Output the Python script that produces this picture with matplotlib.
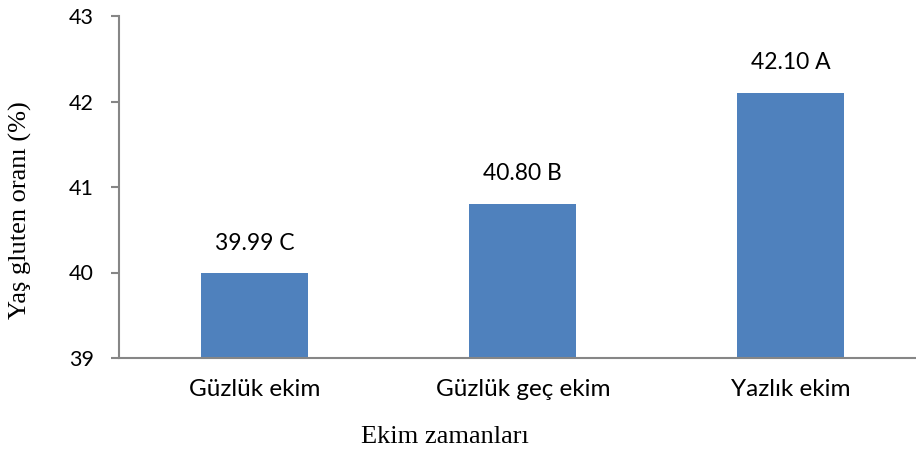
import numpy as np
import matplotlib.pyplot as plt

# ekim zamanlarina gore yas gluten orani
categories = ['Güzlük ekim', 'Güzlük geç ekim', 'Yazlık ekim']
values = [39.99, 40.80, 42.10]
letters = ['C', 'B', 'A']
yticks = [39, 40, 41, 42, 43]

bar_color = '#4F81BD'
axis_color = '#868686'
sans = 'Lato'
serif = 'Liberation Serif'

fig = plt.figure(figsize=(9.16, 4.53), dpi=100)
ax = fig.add_axes([119/916, 1 - 358/453, 1 - 119/916, (358 - 16)/453])

x = np.arange(len(categories))
bars = ax.bar(x, values, width=0.4, color=bar_color, zorder=2)

for xi, v, l in zip(x, values, letters):
    ax.annotate('%.2f %s' % (v, l), xy=(xi, v), xytext=(0, 17),
                textcoords='offset points', ha='center', va='baseline',
                fontsize=16.5, family=sans, color='black')

ax.set_ylim(39, 43)
ax.set_xlim(-0.507, 2.467)
ax.set_yticks(yticks)
ax.set_yticklabels([str(t) for t in yticks], family=sans, fontsize=15.5)
ax.set_xticks(x)
ax.set_xticklabels(categories, family=sans, fontsize=17.5)

for s in ['top', 'right']:
    ax.spines[s].set_visible(False)
for s in ['left', 'bottom']:
    ax.spines[s].set_color(axis_color)
    ax.spines[s].set_linewidth(1.5)

ax.tick_params(axis='y', length=6, width=1.5, color=axis_color, pad=12)
ax.tick_params(axis='x', length=0, pad=15)

fig.text(445/916, 1 - 437/453, 'Ekim zamanları', family=serif, fontsize=19,
         ha='center', va='center')
fig.text(20/916, 1 - 210/453, 'Yaş gluten oranı (%)', family=serif, fontsize=19,
         ha='center', va='center', rotation=90)

fig.savefig('out.png', dpi=100)
